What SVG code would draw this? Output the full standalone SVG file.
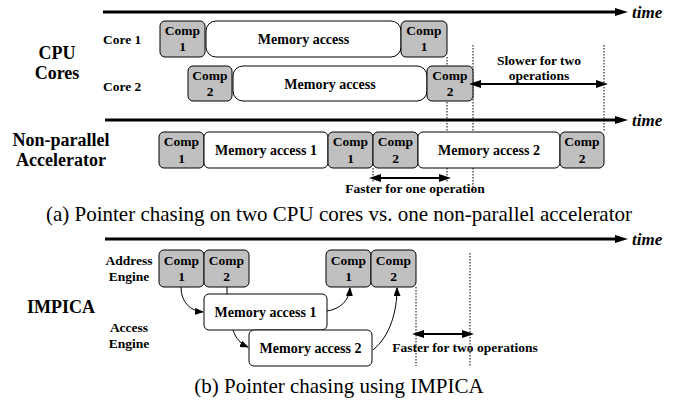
<svg xmlns="http://www.w3.org/2000/svg" width="678" height="400" viewBox="0 0 678 400">
<defs>
<style>
text{font-family:"Liberation Serif","Times New Roman",serif;fill:#000}
.b{font-weight:bold}
.lbl{font-weight:bold;font-size:13.5px}
.big{font-weight:bold;font-size:18px}
.bx{font-weight:bold;font-size:13.5px;text-anchor:middle}
.mx{font-weight:bold;font-size:14px;text-anchor:middle}
.time{font-weight:bold;font-style:italic;font-size:17px}
.cap{font-size:21px;text-anchor:middle}
.comp{fill:#c0c0c0;stroke:#000;stroke-width:1}
.mem{fill:#fff;stroke:#000;stroke-width:1}
.axis{stroke:#000;stroke-width:3;fill:none}
.dot{stroke:#000;stroke-width:1;stroke-dasharray:1.5 1.5;fill:none}
.dbl{stroke:#000;stroke-width:2;fill:none}
.thin{stroke:#000;stroke-width:1;fill:none}
</style>
<marker id="ta" markerUnits="userSpaceOnUse" markerWidth="13" markerHeight="8" refX="4" refY="4" orient="auto"><path d="M0,0 L13,4 L0,8 z" fill="#000"/></marker>
<marker id="da" markerUnits="userSpaceOnUse" markerWidth="12" markerHeight="8" refX="4" refY="4" orient="auto-start-reverse"><path d="M0,0 L12,4 L0,8 z" fill="#000"/></marker>
<marker id="sa" markerUnits="userSpaceOnUse" markerWidth="9" markerHeight="7" refX="8" refY="3.5" orient="auto"><path d="M0,0 L9,3.5 L0,7 z" fill="#000"/></marker>
</defs>

<g id="dotted-guides">
<line class="dot" x1="447" y1="57" x2="447" y2="182"/>
<line class="dot" x1="473" y1="45" x2="473" y2="191"/>
<line class="dot" x1="604" y1="45" x2="604" y2="132"/>
<line class="dot" x1="373" y1="168" x2="373" y2="182"/>
<line class="dot" x1="416" y1="287" x2="416" y2="366"/>
<line class="dot" x1="470" y1="253" x2="470" y2="366"/>
</g>

<g id="axes">
<line class="axis" x1="103" y1="12" x2="619" y2="12" marker-end="url(#ta)"/>
<text class="time" x="632" y="18">time</text>
<line class="axis" x1="105" y1="120" x2="619" y2="120" marker-end="url(#ta)"/>
<text class="time" x="632" y="126">time</text>
<line class="axis" x1="105" y1="239" x2="619" y2="239" marker-end="url(#ta)"/>
<text class="time" x="632" y="245">time</text>
</g>

<g id="labels">
<text class="big" x="57" y="59" text-anchor="middle">CPU</text>
<text class="big" x="57" y="79" text-anchor="middle">Cores</text>
<text class="lbl" x="103" y="44">Core 1</text>
<text class="lbl" x="103" y="91">Core 2</text>
<text class="big" x="61" y="146" text-anchor="middle">Non-parallel</text>
<text class="big" x="61" y="166" text-anchor="middle">Accelerator</text>
<text class="big" x="61" y="313" text-anchor="middle">IMPICA</text>
<text class="lbl" x="129" y="265" text-anchor="middle">Address</text>
<text class="lbl" x="129" y="281" text-anchor="middle">Engine</text>
<text class="lbl" x="129" y="332" text-anchor="middle">Access</text>
<text class="lbl" x="129" y="348" text-anchor="middle">Engine</text>
</g>

<g id="core1-comp1"><rect class="comp" x="160" y="21" width="45" height="36" rx="5"/><text class="bx" x="182.5" y="35">Comp</text><text class="bx" x="182.5" y="51">1</text></g>
<g id="core1-mem"><rect class="mem" x="206" y="21" width="195" height="36" rx="10"/><text class="mx" x="303.5" y="44">Memory access</text></g>
<g id="core1-comp1b"><rect class="comp" x="401" y="21" width="46" height="36" rx="5"/><text class="bx" x="424" y="35">Comp</text><text class="bx" x="424" y="51">1</text></g>

<g id="core2-comp2"><rect class="comp" x="188" y="66" width="44" height="35" rx="5"/><text class="bx" x="210" y="80">Comp</text><text class="bx" x="210" y="96">2</text></g>
<g id="core2-mem"><rect class="mem" x="233" y="66" width="194" height="35" rx="10"/><text class="mx" x="330" y="88.5">Memory access</text></g>
<g id="core2-comp2b"><rect class="comp" x="427" y="66" width="46" height="35" rx="5"/><text class="bx" x="450" y="80">Comp</text><text class="bx" x="450" y="96">2</text></g>

<g id="slower">
<line class="dbl" x1="477" y1="84" x2="600" y2="84" marker-start="url(#da)" marker-end="url(#da)"/>
<text class="lbl" x="539" y="65" text-anchor="middle">Slower for two</text>
<text class="lbl" x="539" y="80" text-anchor="middle">operations</text>
</g>

<g id="np-comp1"><rect class="comp" x="159" y="132" width="45" height="36" rx="5"/><text class="bx" x="181.5" y="146">Comp</text><text class="bx" x="181.5" y="163">1</text></g>
<g id="np-mem1"><rect class="mem" x="204" y="132" width="124" height="36" rx="5"/><text class="mx" x="266" y="155">Memory access 1</text></g>
<g id="np-comp1b"><rect class="comp" x="328" y="132" width="45" height="36" rx="5"/><text class="bx" x="350.5" y="146">Comp</text><text class="bx" x="350.5" y="163">1</text></g>
<g id="np-comp2"><rect class="comp" x="373" y="132" width="45" height="36" rx="5"/><text class="bx" x="395.5" y="146">Comp</text><text class="bx" x="395.5" y="163">2</text></g>
<g id="np-mem2"><rect class="mem" x="418" y="132" width="142" height="36" rx="5"/><text class="mx" x="489" y="155">Memory access 2</text></g>
<g id="np-comp2b"><rect class="comp" x="560" y="132" width="44" height="36" rx="5"/><text class="bx" x="582" y="146">Comp</text><text class="bx" x="582" y="163">2</text></g>

<g id="faster-one">
<line class="dbl" x1="377" y1="178" x2="443" y2="178" marker-start="url(#da)" marker-end="url(#da)"/>
<text class="lbl" x="415" y="193" text-anchor="middle">Faster for one operation</text>
</g>

<text class="cap" x="339" y="221">(a) Pointer chasing on two CPU cores vs. one non-parallel accelerator</text>

<g id="im-comp1"><rect class="comp" x="159" y="250" width="45" height="37" rx="5"/><text class="bx" x="181.5" y="264.5">Comp</text><text class="bx" x="181.5" y="281">1</text></g>
<g id="im-comp2"><rect class="comp" x="204" y="250" width="45" height="37" rx="5"/><text class="bx" x="226.5" y="264.5">Comp</text><text class="bx" x="226.5" y="281">2</text></g>
<g id="im-comp1b"><rect class="comp" x="326" y="250" width="45" height="37" rx="5"/><text class="bx" x="348.5" y="264.5">Comp</text><text class="bx" x="348.5" y="281">1</text></g>
<g id="im-comp2b"><rect class="comp" x="371" y="250" width="45" height="37" rx="5"/><text class="bx" x="393.5" y="264.5">Comp</text><text class="bx" x="393.5" y="281">2</text></g>
<g id="im-mem1"><rect class="mem" x="204" y="294" width="123" height="36" rx="5"/><text class="mx" x="265.5" y="317">Memory access 1</text></g>
<g id="im-mem2"><rect class="mem" x="249" y="330" width="123" height="36" rx="5"/><text class="mx" x="310.5" y="353">Memory access 2</text></g>

<g id="connectors">
<line class="thin" x1="227" y1="287" x2="227" y2="294"/>
<path class="thin" d="M181,287 C181,302 190,311 203,312" marker-end="url(#sa)"/>
<path class="thin" d="M233,330 C236,339 241,344 248,347" marker-end="url(#sa)"/>
<path class="thin" d="M327,311 C340,309 349,301 350,288" marker-end="url(#sa)"/>
<path class="thin" d="M373,350 C390,336 397,312 397,288" marker-end="url(#sa)"/>
</g>

<g id="faster-two">
<line class="dbl" x1="420" y1="334" x2="466" y2="334" marker-start="url(#da)" marker-end="url(#da)"/>
<text class="lbl" x="465" y="352" text-anchor="middle">Faster for two operations</text>
</g>

<text class="cap" x="339" y="393">(b) Pointer chasing using IMPICA</text>
</svg>
